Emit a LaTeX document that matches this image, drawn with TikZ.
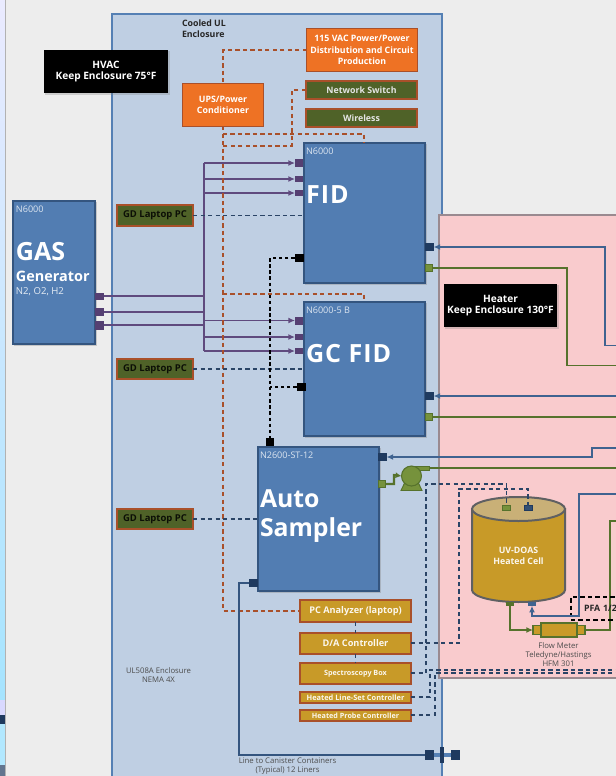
\documentclass[tikz,border=0pt]{standalone}
\usepackage{fontspec}
\setmainfont{Open Sans}
\usetikzlibrary{arrows.meta,shadows,calc,shapes.geometric}
\definecolor{bgc}{HTML}{EDEDED}
\definecolor{encl}{HTML}{BFCFE3}
\definecolor{enclb}{HTML}{5580B4}
\definecolor{pinkc}{HTML}{F9CBCD}
\definecolor{pinkb}{HTML}{9A8A90}
\definecolor{bluebox}{HTML}{527DB2}
\definecolor{blueb}{HTML}{34557F}
\definecolor{orangec}{HTML}{EE7224}
\definecolor{brownb}{HTML}{A9502A}
\definecolor{greenc}{HTML}{4F6228}
\definecolor{goldc}{HTML}{C89A28}
\definecolor{purp}{HTML}{5F4A7E}
\definecolor{purpd}{HTML}{553F72}
\definecolor{navy}{HTML}{1F3A5F}
\definecolor{navyl}{HTML}{3F6390}
\definecolor{lgreen}{HTML}{76923C}
\definecolor{dgreen}{HTML}{56722C}
\definecolor{tankb}{HTML}{5F6062}
\definecolor{capc}{HTML}{C9B077}
\tikzset{
 x=0.75pt,y=-0.75pt,
 every node/.style={inner sep=0pt,outer sep=0pt,font=\fontsize{6.6pt}{8.4pt}\selectfont\bfseries,align=center},
 orangebox/.style={draw=brownb,line width=0.8pt,fill=orangec,text=white},
 greenbox/.style={draw=brownb,line width=1.4pt,fill=greenc,text=white!90!black},
 laptop/.style={draw=brownb,line width=1.4pt,fill=greenc,text=black!85!greenc,font=\fontsize{7.1pt}{8.4pt}\selectfont\bfseries},
 goldbox/.style={draw=brownb,line width=1.6pt,fill=goldc,text=white!92!goldc},
 bluemod/.style={draw=blueb,line width=1.2pt,fill=bluebox,text=white,drop shadow={shadow xshift=1pt,shadow yshift=-1pt,opacity=.35}},
 blackbox/.style={fill=black,text=white,font=\fontsize{7.6pt}{8.6pt}\selectfont\bfseries,drop shadow={shadow xshift=1pt,shadow yshift=-1pt,opacity=.3}},
 portp/.style={fill=purpd},
 portn/.style={fill=navy},
 portk/.style={fill=black},
 portg/.style={fill=lgreen,draw=dgreen,line width=0.7pt},
 pline/.style={draw=purp,line width=1pt},
 parrow/.style={pline,-{Latex[length=5pt,width=4.5pt]}},
 brownd/.style={draw=brownb,line width=1pt,dash pattern=on 3.2pt off 2.4pt},
 navyd/.style={draw=blueb!80!black,line width=0.9pt,dash pattern=on 3.2pt off 2.4pt},
 blackd/.style={draw=black,line width=1.1pt,dash pattern=on 2.6pt off 2pt},
 nline/.style={draw=navyl,line width=1pt},
 gline/.style={draw=dgreen,line width=1pt},
 smalltxt/.style={font=\fontsize{5.8pt}{6.9pt}\selectfont,text=black!70},
 tag/.style={font=\fontsize{6.8pt}{8pt}\selectfont,text=white!80!bluebox,anchor=west},
 bigw/.style={font=\fontsize{18.8pt}{20pt}\selectfont\bfseries,text=white,anchor=west},
}
\newcommand{\bx}[6]{\node[#1,minimum width=#4*0.75pt-#3*0.75pt-1.2pt,minimum height=#6*0.75pt-#5*0.75pt-1.2pt,anchor=center] (#2) at ({(#3+#4)/2},{(#5+#6)/2})}
\begin{document}
\begin{tikzpicture}
\useasboundingbox (0,0) rectangle (616,776);
\clip (0,0) rectangle (616,776);
\fill[bgc] (0,0) rectangle (616,776);
\shade[top color=blue!8!white,bottom color=blue!30!cyan!35!white] (0,0) rectangle (5,700);
\fill[white!85!blue] (0,700) rectangle (5,715);
\fill[navy] (0,715) rectangle (5,724);
\fill[blue!30!cyan!30!white] (0,724) rectangle (5,765);
\fill[navy!70] (0,765) rectangle (5,776);
\fill[gray!60] (5,0) rectangle (6,776);
% enclosures
\draw[draw=enclb,line width=1.5pt,fill=encl,drop shadow={shadow xshift=1pt,shadow yshift=-1pt,opacity=.3}] (112,14) rectangle (442,790);
\bx{orangebox}{ac}{306}{418}{28}{72}{115 VAC Power/Power\\Distribution and Circuit\\Production};
\bx{greenbox}{net}{305}{418}{80}{100}{Network Switch};
\bx{greenbox}{wifi}{305}{418}{108}{128}{Wireless};
\bx{orangebox}{ups}{182}{264}{83}{127}{UPS/Power\\Conditioner};
\bx{blackbox}{hvac}{43}{169}{49}{94}{HVAC\\Keep Enclosure 75°F};
\node[anchor=north west,align=left,text=black!85] (cool) at (182,20) {Cooled UL\\Enclosure};
\bx{bluemod}{fid}{303}{426}{142}{284}{};
\bx{bluemod}{gc}{303}{426}{301}{437}{};
% heated enclosure
\draw[draw=pinkb,line width=1.2pt,fill=pinkc,drop shadow={shadow xshift=1pt,shadow yshift=-1pt,opacity=.25}] (439,215) rectangle (640,678);
\bx{blackbox}{heat}{443}{558}{283}{328}{Heater\\Keep Enclosure 130°F};
\bx{bluemod}{gas}{12}{96}{200}{345}{};
\bx{bluemod}{auto}{257}{380}{446}{592}{};
\bx{laptop}{l1}{116}{194}{204}{227}{GD Laptop PC};
\bx{laptop}{l2}{116}{194}{358}{380}{GD Laptop PC};
\bx{laptop}{l3}{116}{194}{508}{530}{GD Laptop PC};
\bx{goldbox,font=\fontsize{6.9pt}{8pt}\selectfont\bfseries}{pc}{299}{412}{599}{623}{PC Analyzer (laptop)};
\bx{goldbox,font=\fontsize{6.9pt}{8pt}\selectfont\bfseries}{da}{299}{412}{632}{655}{D/A Controller};
\bx{goldbox,font=\fontsize{5.4pt}{6pt}\selectfont\bfseries}{spec}{299}{412}{662}{685}{Spectroscopy Box};
\bx{goldbox,font=\fontsize{5.55pt}{6pt}\selectfont\bfseries}{hl}{299}{412}{691}{704}{Heated Line-Set Controller};
\bx{goldbox,font=\fontsize{5.4pt}{6pt}\selectfont\bfseries}{hp}{299}{412}{709}{722}{Heated Probe Controller};
% labels in modules
\node[tag] (t1) at (16,209) {N6000};
\node[bigw] (t2) at (16,252) {GAS};
\node[anchor=west,text=white,font=\fontsize{10.8pt}{12pt}\selectfont\bfseries] (t3) at (16,276) {Generator};
\node[anchor=west,text=white!85!bluebox,font=\fontsize{7.2pt}{9pt}\selectfont] (t4) at (16,292) {N2, O2, H2};
\node[tag] (t5) at (306,151) {N6000};
\node[bigw] (t6) at (306,195) {\addfontfeature{LetterSpace=4}FID};
\node[tag] (t7) at (306,310) {N6000-5 B};
\node[bigw] (t8) at (306,354) {\addfontfeature{LetterSpace=4}GC FID};
\node[tag] (t9) at (260,455) {N2600-ST-12};
\node[anchor=west,align=left,text=white,font=\fontsize{18.6pt}{21.75pt}\selectfont\bfseries] (t10) at (260,516) {Auto\\Sampler};
\node[smalltxt] (t11) at (158.5,675) {UL508A Enclosure\\NEMA 4X};
\node[smalltxt] (t12) at (287.5,766) {Line to Canister Containers\\(Typical) 12 Liners};
% ports
\foreach \n/\s/\x/\y/\w/\h in {
 gp1/portp/99.5/296/9/7, gp2/portp/99.5/312/9/8, gp3/portp/99.5/325/9/9,
 fp1/portp/299/163/8/8, fp2/portp/299/179/8/6, fp3/portp/299/193/8/6,
 cp1/portp/299/320.5/8/8, cp2/portp/299/337/8/6, cp3/portp/299/351/8/6,
 kf/portk/299/258/9/8, kc/portk/301/387/9/8, ka/portk/270/442/8/8,
 nf/portn/429/247/9/8, nc/portn/429/396/9/8, na/portn/382/457/9/8, nb/portn/253/583/9/8,
 gf/portg/429/268/7/7, gc2/portg/429/417/7/7, ga/portg/382/484/7/7}
 {\node[\s,minimum width=\w*0.75pt,minimum height=\h*0.75pt] (\n) at (\x,\y) {};}
\coordinate (bus) at (204,250);
% purple
\draw[pline] (gp1.east) -- (gp1.east-|bus);
\draw[pline] (gp2.east) -- (gp2.east-|bus);
\draw[pline] (gp3.east) -- (gp3.east-|bus);
\draw[pline] (fp1.west-|bus) -- (cp3.west-|bus);
\foreach \p in {fp1,fp2,fp3,cp1,cp2,cp3}
 \draw[parrow] (\p.west-|bus) -- (\p.west);
% brown dashed
\draw[brownd] (ac.west) -- (ac.west-|ups.north) -- (ups.north);
\draw[brownd] (ups.south) -- (ups.south|-pc.west) -- (pc.west);
\coordinate (fidn) at (364,134);
\draw[brownd] (ups.south|-fidn) -- (fidn) -- (fidn|-fid.north);
\coordinate (netb) at (292,146);
\draw[brownd] (net.west) -- (net.west-|netb) -- (netb) -- (netb-|ups.south);
\coordinate (gcn) at (364,294);
\draw[brownd] (ups.south|-gcn) -- (gcn) -- (gcn|-gc.north);
% laptops
\draw[navyd] (l1.east) -- (l1.east-|fid.west);
\draw[navyd] (l2.east) -- (l2.east-|gc.west);
\draw[navyd] (l3.east) -- (l3.east-|auto.west);
% black
\draw[blackd] (kf.west) -- (kf.west-|ka.north) -- (ka.north);
\draw[blackd] (kc.west) -- (kc.west-|ka.north);
% right side solid
\coordinate (r1) at (605,247); \coordinate (r1b) at (605,345.5); \coordinate (r1c) at (630,345.5);
\draw[nline,-{Latex[length=5pt,width=4.5pt]}] (r1c) -- (r1b) -- (r1) -- (nf.east);
\coordinate (g1) at (567,268); \coordinate (g1b) at (567,365.5); \coordinate (g1c) at (630,365.5);
\draw[gline] (gf.east) -- (g1) -- (g1b) -- (g1c);
\coordinate (r2) at (630,396); \draw[nline,-{Latex[length=5pt,width=4.5pt]}] (r2) -- (nc.east);
\coordinate (g2) at (630,417); \draw[gline] (gc2.east) -- (g2);
\coordinate (r3) at (592,457); \coordinate (r3b) at (592,448); \coordinate (r3c) at (630,448);
\draw[nline,-{Latex[length=5pt,width=4.5pt]}] (r3c) -- (r3b) -- (r3) -- (na.east);
% pump
\coordinate (pout) at (429,468);
\coordinate (pout2) at (630,468);
\draw[gline] (pout) -- (pout2);
\fill[lgreen,draw=dgreen,line width=0.7pt] (411.5,466) rectangle (429,470.5);
\fill[lgreen,draw=dgreen,line width=0.7pt] (401,490.5) -- (406,480) -- (417,480) -- (422,490.5) -- cycle;
\node[circle,fill=lgreen,draw=dgreen,line width=0.8pt,minimum size=20*0.75pt] (pump) at (411.5,476) {};
\coordinate (pb) at (394,484); \coordinate (pb2) at (394,475);
\draw[gline,line width=1.6pt,-{Latex[length=4.5pt,width=4.5pt]}] (ga.east) -- (pb) -- (pb2) -- (pump.west);
% canister line
\coordinate (c1) at (239,583); \coordinate (c2) at (239,755);
\node[portn,minimum width=9*0.75pt,minimum height=10*0.75pt] (cl) at (429,755) {};
\node[portn,minimum width=9*0.75pt,minimum height=10*0.75pt] (cr) at (455,755) {};
\draw[draw=blueb,line width=1.1pt] (nb.west) -- (c1) -- (c2) -- (cl.west);
\draw[draw=enclb,line width=3.5pt] (cl.east) -- (cr.west);
\node[portn,minimum width=4*0.75pt,minimum height=16*0.75pt] (cm) at (442,755) {};
% tank
\path[fill=goldc,draw=tankb,line width=1.5pt] (472,509) -- (472,590) .. controls (472,596.6) and (492.8,602) .. (518.5,602) .. controls (544.2,602) and (565,596.6) .. (565,590) -- (565,509) -- cycle;
\node[ellipse,fill=capc,draw=tankb,line width=1.5pt,minimum width=93*0.75pt,minimum height=24*0.75pt] (cap) at (518.5,509) {};
\node[text=white!92!goldc] (tanklbl) at (518.5,556) {UV-DOAS\\Heated Cell};
\node[portg,minimum width=8*0.75pt,minimum height=4.5*0.75pt] (tg) at (506.5,508) {};
\node[fill=navyl!80!black,draw=navy,line width=0.7pt,minimum width=8*0.75pt,minimum height=4.5*0.75pt] (tn) at (528,508) {};
\node[fill=dgreen,minimum width=8*0.75pt,minimum height=3.5*0.75pt] (bg) at (510,604) {};
\node[fill=navyl,minimum width=8*0.75pt,minimum height=3.5*0.75pt] (bn) at (532,604) {};
% tank dashed
\coordinate (d1) at (459,643); \coordinate (d2) at (459,489); \coordinate (d3) at (528,489);
\draw[navyd] (da.east|-d1) -- (d1) -- (d2) -- (d3) -- (tn.north);
\coordinate (s1) at (426,673); \coordinate (s2) at (426,484); \coordinate (s3) at (506.5,484);
\draw[navyd] (spec.east|-s1) -- (s1) -- (s2) -- (s3) -- (tg.north);
\coordinate (h1) at (430,697); \coordinate (h2) at (430,670); \coordinate (h3) at (630,670);
\draw[navyd] (hl.east|-h1) -- (h1) -- (h2) -- (h3);
\coordinate (q1) at (435,715); \coordinate (q2) at (435,673); \coordinate (q3) at (630,673);
\draw[navyd] (hp.east|-q1) -- (q1) -- (q2) -- (q3);
\draw[navyd] (pc.south) -- (da.north);
\draw[navyd] (da.south) -- (spec.north);
% flow meter
\node[fill=goldc,draw=dgreen,line width=0.9pt,minimum width=8*0.75pt,minimum height=9*0.75pt] (fml) at (537,630) {};
\node[fill=goldc,draw=dgreen,line width=0.9pt,minimum width=8*0.75pt,minimum height=9*0.75pt] (fmr) at (581,630) {};
\node[fill=goldc,draw=dgreen,line width=0.9pt,minimum width=36*0.75pt,minimum height=14*0.75pt] (fm) at (559,630) {};
\node[smalltxt] (fmt) at (558.5,654.5) {Flow Meter\\Teledyne/Hastings\\HFM 301};
\coordinate (fg) at (510,630);
\draw[gline,-{Latex[length=5pt,width=4.5pt]}] (bg.south) -- (fg) -- (fml.west);
\coordinate (fo) at (610,630); \coordinate (fo2) at (610,521); \coordinate (fo3) at (630,521);
\draw[gline] (fmr.east) -- (fo) -- (fo2) -- (fo3);
\node[draw=black,line width=1pt,dash pattern=on 3.2pt off 2.4pt,minimum width=70*0.75pt,minimum height=23*0.75pt,anchor=north west,text=black!85,align=left,text width=60*0.75pt] (pfa) at (571,597) {\hspace{6pt}PFA 1/2};
\coordinate (n1) at (532,616); \coordinate (n2) at (579,616); \coordinate (n3) at (579,494); \coordinate (n4) at (630,494);
\draw[nline,line width=1.1pt,-{Latex[length=5pt,width=4.5pt]}] (n4) -- (n3) -- (n2) -- (n1) -- (bn.south);
\end{tikzpicture}
\end{document}
